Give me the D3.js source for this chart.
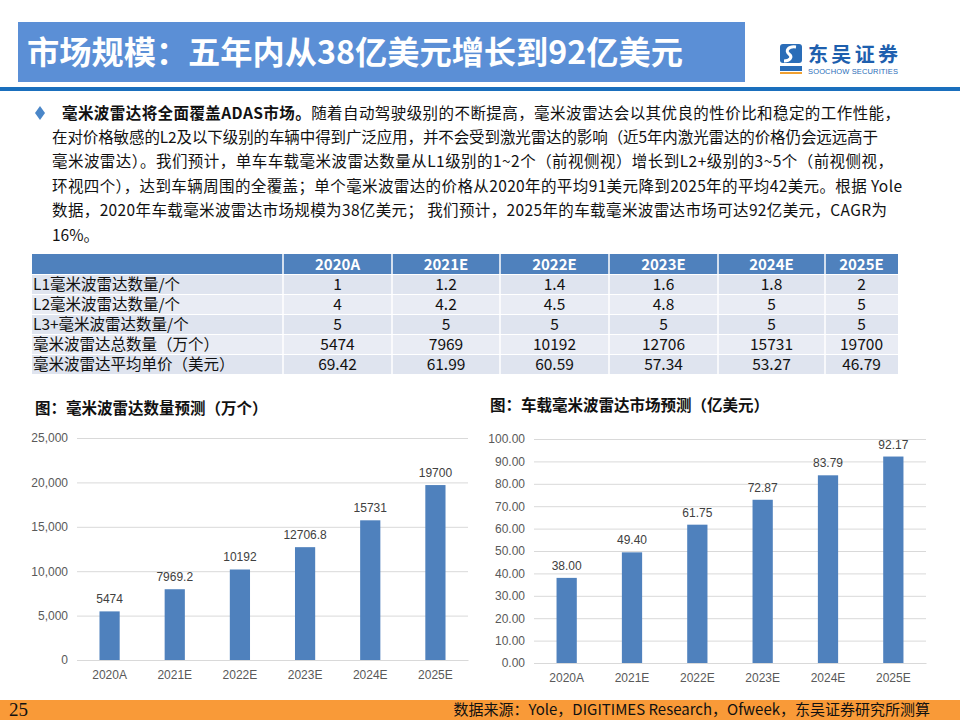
<!DOCTYPE html>
<html>
<head>
<meta charset="utf-8">
<script src="https://cdn.jsdelivr.net/npm/d3@7"></script>
<style>
  body { margin: 0; background: #fff; }
  svg { display: block; }
</style>
</head>
<body>
<div class="plot"></div>
<script>
// data
const years = ["2020A", "2021E", "2022E", "2023E", "2024E", "2025E"];
const rowLabels = ["L1毫米波雷达数量/个", "L2毫米波雷达数量/个", "L3+毫米波雷达数量/个", "毫米波雷达总数量（万个）", "毫米波雷达平均单价（美元）"];
const l1Count = ["1", "1.2", "1.4", "1.6", "1.8", "2"];
const l2Count = ["4", "4.2", "4.5", "4.8", "5", "5"];
const l3Count = ["5", "5", "5", "5", "5", "5"];
const totalCount = ["5474", "7969", "10192", "12706", "15731", "19700"];
const avgPrice = ["69.42", "61.99", "60.59", "57.34", "53.27", "46.79"];

const radarUnits = [5474, 7969.2, 10192, 12706.8, 15731, 19700];
const radarUnitLabels = ["5474", "7969.2", "10192", "12706.8", "15731", "19700"];
const marketSize = [38.00, 49.40, 61.75, 72.87, 83.79, 92.17];

const bodyLines = [
  "在对价格敏感的L2及以下级别的车辆中得到广泛应用，并不会受到激光雷达的影响（近5年内激光雷达的价格仍会远远高于",
  "毫米波雷达）。我们预计，单车车载毫米波雷达数量从L1级别的1~2个（前视侧视）增长到L2+级别的3~5个（前视侧视，",
  "环视四个），达到车辆周围的全覆盖；单个毫米波雷达的价格从2020年的平均91美元降到2025年的平均42美元。根据 Yole",
  "数据，2020年车载毫米波雷达市场规模为38亿美元； 我们预计，2025年的车载毫米波雷达市场可达92亿美元，CAGR为",
  "16%。"
];
const bodyWidths = [826, 841, 850, 835, null];

const W = 960, H = 720;
const cjk = "'Noto Sans CJK SC', 'Noto Sans', sans-serif";
const latin = "'Liberation Sans', Arial, 'Noto Sans CJK SC', sans-serif";
const narrow = "'Liberation Sans Narrow', 'Noto Sans CJK SC', sans-serif";
const barColor = "#4f81bd";

const svg = d3.select(".plot")
  .append("svg")
    .attr("width", W)
    .attr("height", H);

// header bar
svg.append("rect")
  .attr("x", 18).attr("y", 22).attr("width", 727).attr("height", 60)
  .attr("fill", "#5b8fd6");
svg.append("text")
  .attr("x", 27).attr("y", 64)
  .attr("fill", "#fff")
  .style("font-family", cjk).style("font-weight", "bold").style("font-size", "32px")
  .attr("textLength", 656)
  .attr("lengthAdjust", "spacingAndGlyphs")
  .text("市场规模：五年内从38亿美元增长到92亿美元");
svg.append("rect")
  .attr("x", 0).attr("y", 87).attr("width", W).attr("height", 4)
  .attr("fill", "#1a6fbd");

// logo
const logo = svg.append("g").attr("transform", "translate(780, 40)");
logo.append("rect").attr("x", 0).attr("y", 4).attr("width", 22).attr("height", 19).attr("rx", 3).attr("fill", "#2a6db8");
logo.append("path")
  .attr("d", "M16,7 C8,6 5,11 9,14 C13,17 10,21 4,21")
  .attr("fill", "none").attr("stroke", "#fff").attr("stroke-width", 3);
logo.append("rect").attr("x", 0).attr("y", 26).attr("width", 22).attr("height", 5).attr("fill", "#2a6db8");
logo.append("rect").attr("x", 0).attr("y", 32).attr("width", 22).attr("height", 2).attr("fill", "#f0a030");
logo.append("text")
  .attr("x", 28).attr("y", 22)
  .attr("fill", "#1e5fae")
  .style("font-family", cjk).style("font-weight", "bold").style("font-size", "20px")
  .attr("textLength", 90)
  .text("东吴证券");
logo.append("text")
  .attr("x", 28).attr("y", 34)
  .attr("fill", "#2a6db8")
  .style("font-family", latin).style("font-size", "7.5px")
  .attr("textLength", 90)
  .text("SOOCHOW SECURITIES");

// bullet paragraph
svg.append("path")
  .attr("d", "M40,106 L45,113 L40,120 L35,113 Z")
  .attr("fill", "#4a86c8");
const first = svg.append("text")
  .attr("x", 62).attr("y", 119)
  .attr("fill", "#111")
  .style("font-family", cjk).style("font-size", "15.5px")
  .attr("textLength", 838)
  .attr("lengthAdjust", "spacing");
first.append("tspan").style("font-weight", "bold").text("毫米波雷达将全面覆盖ADAS市场。");
first.append("tspan").text("随着自动驾驶级别的不断提高，毫米波雷达会以其优良的性价比和稳定的工作性能，");

svg.selectAll(".body-line")
  .data(bodyLines)
  .enter()
  .append("text")
    .attr("class", "body-line")
    .attr("x", 52)
    .attr("y", (d, i) => 143 + i * 24.4)
    .attr("fill", "#111")
    .style("font-family", cjk).style("font-size", "15.5px")
    .each(function(d, i) {
      if (bodyWidths[i]) d3.select(this).attr("textLength", bodyWidths[i]).attr("lengthAdjust", "spacing");
    })
    .text(d => d);

// table
const colEdges = [32, 283, 392, 500, 609, 718, 825, 898];
const tableTop = 254, headH = 20, rowH = 20;
const tableRows = [l1Count, l2Count, l3Count, totalCount, avgPrice];

const table = svg.append("g");
table.append("rect")
  .attr("x", colEdges[0]).attr("y", tableTop)
  .attr("width", colEdges[7] - colEdges[0]).attr("height", headH)
  .attr("fill", barColor);
table.selectAll(".head-sep")
  .data(colEdges.slice(1, 7))
  .enter()
  .append("line")
    .attr("x1", d => d).attr("x2", d => d)
    .attr("y1", tableTop).attr("y2", tableTop + headH)
    .attr("stroke", "#fff").attr("stroke-width", 1.5);
table.selectAll(".head-text")
  .data(years)
  .enter()
  .append("text")
    .attr("x", (d, i) => (colEdges[i + 1] + colEdges[i + 2]) / 2)
    .attr("y", tableTop + 15.5)
    .attr("text-anchor", "middle")
    .attr("fill", "#fff")
    .style("font-family", narrow).style("font-weight", "bold").style("font-size", "15px")
    .text(d => d);

const rowG = table.selectAll(".row")
  .data(tableRows)
  .enter()
  .append("g")
    .attr("transform", (d, i) => `translate(0, ${tableTop + headH + 1 + i * rowH})`);
rowG.append("rect")
  .attr("x", colEdges[0]).attr("y", 0)
  .attr("width", colEdges[7] - colEdges[0]).attr("height", rowH - 1)
  .attr("fill", (d, i) => i % 2 === 0 ? "#dfe4ef" : "#e9ecf4");
rowG.selectAll("line")
  .data(colEdges.slice(1, 7))
  .enter()
  .append("line")
    .attr("x1", d => d).attr("x2", d => d)
    .attr("y1", 0).attr("y2", rowH - 1)
    .attr("stroke", "#fff").attr("stroke-width", 1.5);
rowG.append("text")
  .attr("x", colEdges[0] + 1).attr("y", 15)
  .attr("fill", "#111")
  .style("font-family", narrow).style("font-size", "15.5px")
  .text((d, i) => rowLabels[i]);
rowG.selectAll(".val")
  .data(d => d)
  .enter()
  .append("text")
    .attr("x", (d, i) => (colEdges[i + 1] + colEdges[i + 2]) / 2)
    .attr("y", 15)
    .attr("text-anchor", "middle")
    .attr("fill", "#111")
    .style("font-family", narrow).style("font-size", "15.5px")
    .text(d => d);

// bar chart helper
function barChart(opt) {
  const g = svg.append("g");
  const x = d3.scaleBand().domain(years).range([opt.x0, opt.x1]).paddingInner(0.69).paddingOuter(0.345);
  const y = d3.scaleLinear().domain(opt.domain).range([opt.y0, opt.y1]);

  svg.append("text")
    .attr("x", opt.titleX).attr("y", opt.titleY)
    .attr("fill", "#111")
    .style("font-family", cjk).style("font-weight", "bold").style("font-size", "15.5px")
    .text(opt.title);

  const yAxis = g.append("g")
    .attr("transform", `translate(${opt.x0}, 0)`)
    .call(d3.axisLeft(y).tickValues(opt.ticks).tickFormat(opt.fmt).tickSize(-(opt.x1 - opt.x0)).tickPadding(9));
  yAxis.select(".domain").remove();
  yAxis.selectAll(".tick line").attr("stroke", "#d9d9d9").attr("stroke-width", 1);
  yAxis.selectAll(".tick text")
    .attr("fill", "#595959")
    .style("font-family", latin).style("font-size", "12px");

  const xAxis = g.append("g")
    .attr("transform", `translate(0, ${opt.y0})`)
    .call(d3.axisBottom(x).tickSize(0).tickPadding(10));
  xAxis.select(".domain").attr("stroke", "#d9d9d9");
  xAxis.selectAll(".tick text")
    .attr("fill", "#595959")
    .style("font-family", latin).style("font-size", "12px");

  g.selectAll(".bar")
    .data(opt.values)
    .enter()
    .append("rect")
      .attr("x", (d, i) => x(years[i]))
      .attr("y", d => y(d))
      .attr("width", x.bandwidth())
      .attr("height", d => opt.y0 - y(d))
      .attr("fill", barColor);

  g.selectAll(".lbl")
    .data(opt.values)
    .enter()
    .append("text")
      .attr("x", (d, i) => x(years[i]) + x.bandwidth() / 2)
      .attr("y", d => y(d) - 8)
      .attr("text-anchor", "middle")
      .attr("fill", "#404040")
      .style("font-family", latin).style("font-size", "12px")
      .text((d, i) => opt.labels[i]);
}

barChart({
  x0: 77, x1: 468, y0: 660, y1: 438,
  domain: [0, 25000],
  ticks: d3.range(0, 25001, 5000),
  fmt: d3.format(","),
  values: radarUnits,
  labels: radarUnitLabels,
  title: "图：毫米波雷达数量预测（万个）",
  titleX: 35, titleY: 414
});

barChart({
  x0: 534, x1: 926, y0: 663, y1: 439,
  domain: [0, 100],
  ticks: d3.range(0, 101, 10),
  fmt: d3.format(".2f"),
  values: marketSize,
  labels: marketSize.map(d3.format(".2f")),
  title: "图：车载毫米波雷达市场预测（亿美元）",
  titleX: 490, titleY: 411
});

// footer
svg.append("rect")
  .attr("x", 0).attr("y", 700).attr("width", W).attr("height", 20)
  .attr("fill", "#f99a38");
svg.append("text")
  .attr("x", 9).attr("y", 716)
  .attr("fill", "#111")
  .style("font-family", "'Liberation Serif', serif").style("font-size", "19px")
  .text("25");
svg.append("text")
  .attr("x", 930).attr("y", 715)
  .attr("text-anchor", "end")
  .attr("fill", "#111")
  .style("font-family", cjk).style("font-size", "15px")
  .text("数据来源：Yole，DIGITIMES Research，Ofweek，东吴证券研究所测算");
</script>
</body>
</html>
